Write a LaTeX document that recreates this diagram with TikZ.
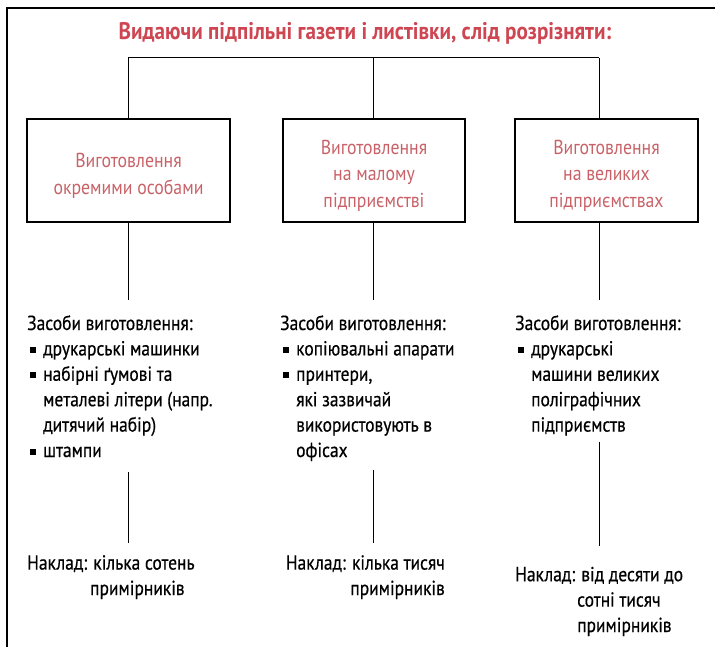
\documentclass[tikz,border=0pt]{standalone}
\usepackage{fontspec}
\setmainfont{PT Sans}[FakeStretch=0.88]
\newfontfamily\bodyfont{PT Sans}[FakeStretch=0.86,FakeBold=0.5]
\usepackage{tikz}
\usepackage{color}
\definecolor{titlered}{RGB}{206,70,82}
\definecolor{boxred}{RGB}{200,98,104}
\newcommand{\bul}{\hspace*{3pt}\rule[2.5pt]{6pt}{6pt}\hspace*{7pt}}
\newcommand{\ind}{\hspace*{16pt}}
\newcommand{\pad}{\rule{0pt}{25pt}}

\begin{document}
\begin{tikzpicture}[x=1pt,y=-1pt,
  every node/.append style={inner sep=0pt},
  heading/.style={font=\fontsize{24}{28}\selectfont\bfseries,text=titlered},
  stagebox/.style={draw=black,line width=1.1pt,align=center,text=boxred,font=\fontsize{20.2}{26.5}\selectfont},
  notes/.style={align=left,anchor=base west,font=\bodyfont\fontsize{20.3}{25.4}\selectfont},
  link/.style={draw=black,line width=1pt}]
\useasboundingbox (0,0) rectangle (715,647);
\draw [line width=1.2pt] (7,647) -- (7,8) -- (715,8);
\node [heading] (title) at (365,33) {Видаючи підпільні газети і листівки, слід розрізняти:};
\coordinate (bar1) at (128,58);
\coordinate (bar2) at (373,58);
\coordinate (bar3) at (599,58);
\node [stagebox,minimum width=203pt,minimum height=103pt] (box1) at (128.5,170.5) {\pad Виготовлення\\ окремими особами};
\node [stagebox,minimum width=182pt,minimum height=103pt] (box2) at (374,170.5) {\pad Виготовлення\\ на малому\\ підприємстві};
\node [stagebox,minimum width=183pt,minimum height=103pt] (box3) at (606.5,170.5) {\pad Виготовлення\\ на великих\\ підприємствах};
\node [notes] (means1) at (27,457) {Засоби виготовлення:\\ \bul друкарські машинки\\ \bul набірні ґумові та\\ \ind металеві літери (напр.\\ \ind дитячий набір)\\ \bul штампи};
\node [notes] (means2) at (280,457) {Засоби виготовлення:\\ \bul копіювальні апарати\\ \bul принтери,\\ \ind які зазвичай\\ \ind використовують в\\ \ind офісах};
\node [notes] (means3) at (515,431.6) {Засоби виготовлення:\\ \bul друкарські\\ \ind машини великих\\ \ind поліграфічних\\ \ind підприємств};
\node [notes] (vol1) at (27,595) {Наклад: кілька сотень\\ \hspace*{63pt}примірників};
\node [notes,align=right,anchor=base east] (vol2) at (445,595) {Наклад: кілька тисяч\\ примірників};
\node [notes] (vol3) at (515,632) {Наклад: від десяти до\\ \hspace*{62pt}сотні тисяч\\ \hspace*{62pt}примірників};
\draw [link] (bar1) -- (bar3);
\draw [link] (bar1) -- (bar1 |- box1.north);
\draw [link] (bar2) -- (bar2 |- box2.north);
\draw [link] (bar3) -- (bar3 |- box3.north);
\draw [link,shorten >=15.5pt] (bar1 |- box1.south) -- (bar1 |- means1.north);
\draw [link,shorten >=15.5pt] (bar2 |- box2.south) -- (bar2 |- means2.north);
\draw [link,shorten >=15.5pt] (bar3 |- box3.south) -- (bar3 |- means3.north);
\draw [link,shorten <=15pt,shorten >=12pt] (bar1 |- means1.south) -- (bar1 |- vol1.north);
\draw [link,shorten <=8.5pt,shorten >=12pt] (bar2 |- means2.south) -- (bar2 |- vol2.north);
\draw [link,shorten <=6pt,shorten >=20.5pt] (bar3 |- means3.south) -- (bar3 |- vol3.north);
\end{tikzpicture}
\end{document}
